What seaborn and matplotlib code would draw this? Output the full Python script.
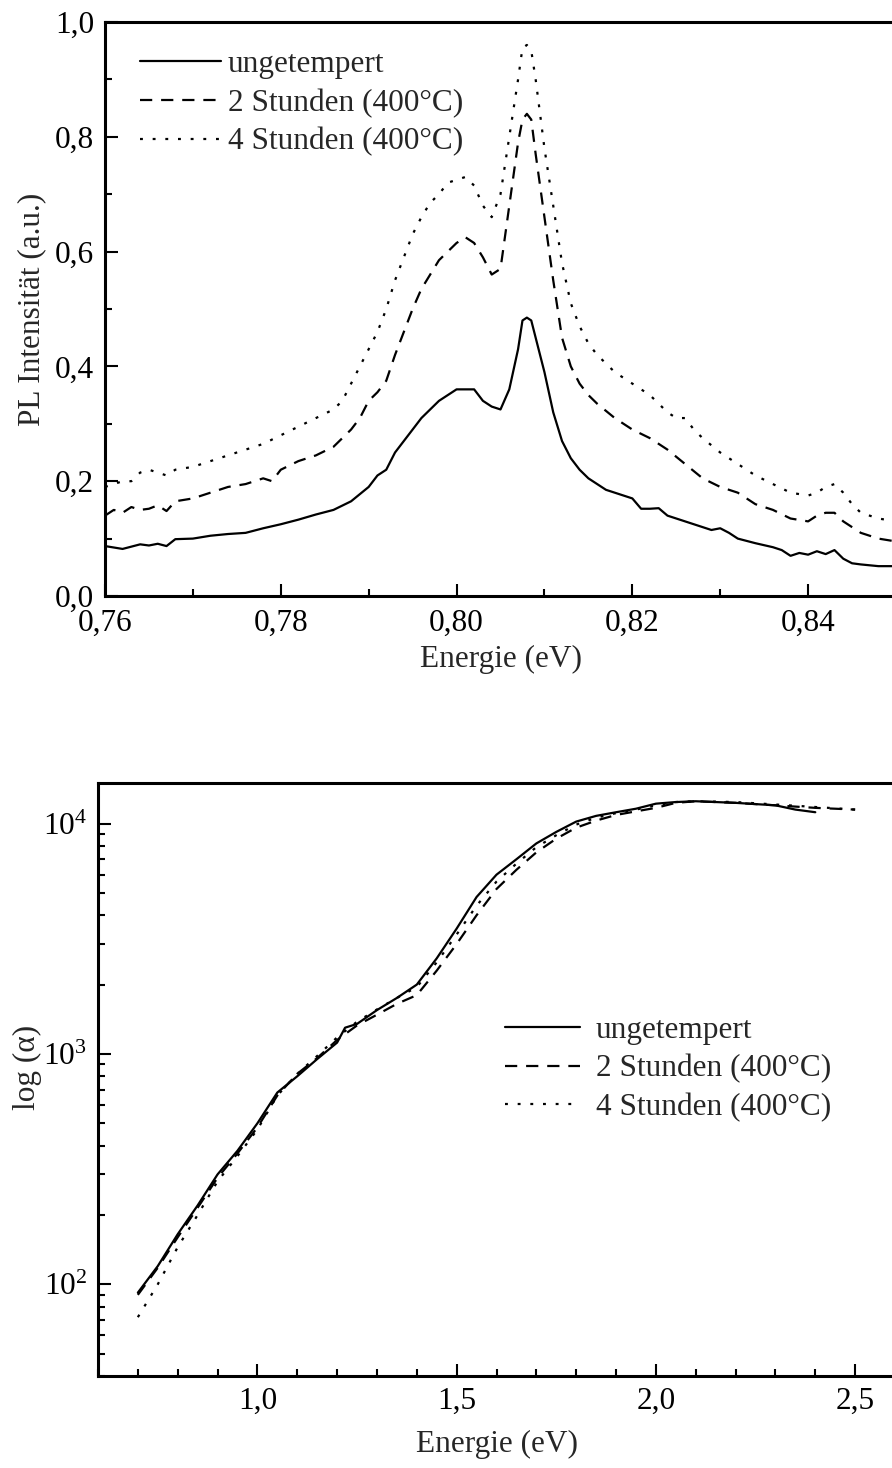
import numpy as np
import pandas as pd
import matplotlib
matplotlib.use("Agg")
import matplotlib.pyplot as plt
import seaborn as sns
from matplotlib.ticker import MultipleLocator, FuncFormatter, LogLocator, NullFormatter

# ---------------- data: PL spectra ----------------
pl_x_solid = [0.760, 0.762, 0.764, 0.765, 0.766, 0.767, 0.768, 0.770, 0.772, 0.774, 0.776, 0.778,
              0.780, 0.782, 0.784, 0.786, 0.788, 0.790, 0.791, 0.792, 0.793, 0.794, 0.795, 0.796,
              0.797, 0.798, 0.799, 0.800, 0.801, 0.802, 0.803, 0.804, 0.805, 0.806, 0.807, 0.8075,
              0.808, 0.8085, 0.809, 0.810, 0.811, 0.812, 0.813, 0.814, 0.815, 0.816, 0.817, 0.818,
              0.820, 0.821, 0.822, 0.823, 0.824, 0.826, 0.828, 0.829, 0.830, 0.831, 0.832, 0.834,
              0.836, 0.837, 0.838, 0.839, 0.840, 0.841, 0.842, 0.843, 0.844, 0.845, 0.846, 0.848, 0.850]
pl_y_solid = [0.087, 0.082, 0.090, 0.088, 0.091, 0.087, 0.099, 0.100, 0.105, 0.108, 0.110, 0.118,
              0.125, 0.133, 0.142, 0.150, 0.165, 0.190, 0.210, 0.220, 0.250, 0.270, 0.290, 0.310,
              0.325, 0.340, 0.350, 0.360, 0.360, 0.360, 0.340, 0.330, 0.325, 0.360, 0.430, 0.480,
              0.485, 0.480, 0.450, 0.390, 0.320, 0.270, 0.240, 0.220, 0.205, 0.195, 0.185, 0.180,
              0.170, 0.152, 0.152, 0.153, 0.140, 0.130, 0.120, 0.115, 0.118, 0.110, 0.100, 0.092,
              0.085, 0.080, 0.070, 0.075, 0.072, 0.078, 0.073, 0.080, 0.065, 0.057, 0.055, 0.052, 0.052]

pl_x_2h = [0.760, 0.761, 0.762, 0.763, 0.764, 0.765, 0.766, 0.767, 0.768, 0.770, 0.772, 0.774,
           0.776, 0.778, 0.779, 0.780, 0.782, 0.784, 0.786, 0.788, 0.789, 0.790, 0.791, 0.792,
           0.793, 0.794, 0.795, 0.796, 0.797, 0.798, 0.799, 0.800, 0.801, 0.802, 0.803, 0.804,
           0.805, 0.806, 0.807, 0.8075, 0.808, 0.8085, 0.809, 0.810, 0.811, 0.812, 0.813, 0.814,
           0.815, 0.816, 0.818, 0.820, 0.822, 0.824, 0.826, 0.828, 0.830, 0.832, 0.834, 0.836,
           0.838, 0.840, 0.841, 0.842, 0.843, 0.844, 0.846, 0.848, 0.850]
pl_y_2h = [0.140, 0.150, 0.145, 0.155, 0.150, 0.152, 0.158, 0.148, 0.165, 0.170, 0.180, 0.190,
           0.195, 0.205, 0.200, 0.220, 0.235, 0.245, 0.260, 0.290, 0.310, 0.340, 0.355, 0.375,
           0.420, 0.460, 0.500, 0.535, 0.560, 0.585, 0.600, 0.615, 0.625, 0.615, 0.590, 0.560,
           0.570, 0.680, 0.790, 0.830, 0.840, 0.830, 0.770, 0.660, 0.550, 0.450, 0.400, 0.370,
           0.350, 0.335, 0.310, 0.290, 0.275, 0.255, 0.230, 0.205, 0.190, 0.180, 0.160, 0.150,
           0.135, 0.130, 0.140, 0.145, 0.145, 0.130, 0.110, 0.100, 0.095]

pl_x_4h = [0.760, 0.762, 0.763, 0.764, 0.765, 0.766, 0.767, 0.768, 0.770, 0.772, 0.774, 0.776,
           0.778, 0.780, 0.782, 0.784, 0.786, 0.787, 0.788, 0.789, 0.790, 0.791, 0.792, 0.793,
           0.794, 0.795, 0.796, 0.797, 0.798, 0.799, 0.800, 0.801, 0.802, 0.803, 0.804, 0.805,
           0.806, 0.807, 0.8075, 0.808, 0.8085, 0.809, 0.810, 0.811, 0.812, 0.813, 0.814, 0.815,
           0.816, 0.818, 0.820, 0.822, 0.824, 0.825, 0.826, 0.827, 0.828, 0.830, 0.832, 0.834,
           0.836, 0.838, 0.840, 0.841, 0.842, 0.843, 0.844, 0.845, 0.846, 0.848, 0.850]
pl_y_4h = [0.190, 0.200, 0.200, 0.215, 0.220, 0.215, 0.210, 0.220, 0.225, 0.235, 0.245, 0.255,
           0.265, 0.280, 0.295, 0.310, 0.325, 0.340, 0.370, 0.400, 0.430, 0.460, 0.500, 0.550,
           0.590, 0.630, 0.660, 0.685, 0.700, 0.720, 0.725, 0.730, 0.715, 0.680, 0.660, 0.700,
           0.800, 0.900, 0.955, 0.960, 0.950, 0.900, 0.780, 0.680, 0.580, 0.510, 0.470, 0.440,
           0.420, 0.390, 0.370, 0.350, 0.320, 0.310, 0.310, 0.290, 0.275, 0.250, 0.230, 0.210,
           0.195, 0.180, 0.175, 0.180, 0.190, 0.195, 0.180, 0.160, 0.145, 0.135, 0.130]

# ---------------- data: absorption ----------------
ab_x_solid = [0.70, 0.75, 0.80, 0.85, 0.90, 0.95, 1.00, 1.05, 1.10, 1.15, 1.20, 1.22, 1.25, 1.30,
              1.35, 1.40, 1.45, 1.50, 1.55, 1.60, 1.65, 1.70, 1.75, 1.80, 1.85, 1.90, 1.95, 2.00,
              2.05, 2.10, 2.20, 2.30, 2.35, 2.40]
ab_y_solid = [92, 120, 165, 220, 300, 380, 500, 680, 800, 950, 1120, 1300, 1350, 1550,
              1750, 2000, 2600, 3500, 4800, 6000, 7000, 8200, 9200, 10200, 10800, 11200, 11600, 12200,
              12400, 12500, 12300, 12000, 11500, 11200]

ab_x_2h = [0.70, 0.75, 0.80, 0.85, 0.90, 0.95, 1.00, 1.05, 1.10, 1.15, 1.20, 1.25, 1.30, 1.35,
           1.40, 1.45, 1.50, 1.55, 1.60, 1.65, 1.70, 1.75, 1.80, 1.85, 1.90, 1.95, 2.00, 2.05,
           2.10, 2.20, 2.30, 2.40, 2.50]
ab_y_2h = [90, 118, 160, 215, 290, 370, 480, 660, 820, 960, 1150, 1330, 1480, 1650,
           1800, 2300, 3000, 4000, 5200, 6300, 7500, 8600, 9600, 10300, 10900, 11300, 11700, 12300,
           12500, 12300, 12000, 11700, 11500]

ab_x_4h = [0.70, 0.75, 0.80, 0.85, 0.90, 0.95, 1.00, 1.05, 1.10, 1.15, 1.20, 1.25, 1.30, 1.35,
           1.40, 1.45, 1.50, 1.55, 1.60, 1.65, 1.70, 1.75, 1.80, 1.85, 1.90, 1.95, 2.00, 2.05,
           2.10, 2.20, 2.30, 2.40, 2.50]
ab_y_4h = [72, 100, 145, 200, 280, 360, 470, 660, 820, 980, 1180, 1380, 1560, 1750,
           1950, 2500, 3300, 4400, 5600, 6700, 7900, 8900, 9900, 10600, 11100, 11500, 12000, 12400,
           12500, 12400, 12100, 11800, 11500]

labels = ["ungetempert", "2 Stunden (400°C)", "4 Stunden (400°C)"]

# ---------------- style ----------------
sns.set_theme(style="white")
plt.rcParams["font.family"] = ["Liberation Serif", "DejaVu Serif"]
plt.rcParams["mathtext.fontset"] = "custom"
plt.rcParams["mathtext.rm"] = "Liberation Serif"
plt.rcParams["mathtext.it"] = "Liberation Serif:italic"
plt.rcParams["axes.linewidth"] = 2.2
plt.rcParams["axes.edgecolor"] = "black"

FS = 22.5
LW = 1.6
dash_solid = None
dash_dashed = (5.5, 4.0)
dash_dotted = (1.3, 4.4)

fig = plt.figure(figsize=(8.92, 14.68), dpi=100)
ax1 = fig.add_axes([105 / 892, 1 - 596 / 1468, (896 - 105) / 892, (596 - 22) / 1468])
ax2 = fig.add_axes([98 / 892, 1 - 1376 / 1468, (895 - 98) / 892, (1376 - 783) / 1468])


def draw(ax, xs, ys):
    patterns = [dash_solid, dash_dashed, dash_dotted]
    for x, y, lab, pat in zip(xs, ys, labels, patterns):
        df = pd.DataFrame({"x": x, "y": y})
        sns.lineplot(data=df, x="x", y="y", ax=ax, color="black", linewidth=LW,
                     label=lab, sort=False, estimator=None)
        line = ax.lines[-1]
        if pat is not None:
            line.set_dashes(pat)
        line.set_dash_capstyle("butt")


draw(ax1, [pl_x_solid, pl_x_2h, pl_x_4h], [pl_y_solid, pl_y_2h, pl_y_4h])
draw(ax2, [ab_x_solid, ab_x_2h, ab_x_4h], [ab_y_solid, ab_y_2h, ab_y_4h])

comma1 = FuncFormatter(lambda v, p: f"{v:.1f}".replace(".", ","))
comma2 = FuncFormatter(lambda v, p: f"{v:.2f}".replace(".", ","))

# top axes
ax1.set_xlim(0.76, 0.85)
ax1.set_ylim(0.0, 1.0)
ax1.xaxis.set_major_locator(MultipleLocator(0.02))
ax1.xaxis.set_minor_locator(MultipleLocator(0.01))
ax1.yaxis.set_major_locator(MultipleLocator(0.2))
ax1.yaxis.set_minor_locator(MultipleLocator(0.1))
ax1.xaxis.set_major_formatter(comma2)
ax1.yaxis.set_major_formatter(comma1)
ax1.set_xlabel("Energie (eV)", fontsize=FS, labelpad=5)
ax1.set_ylabel("PL Intensität (a.u.)", fontsize=FS, labelpad=6)

# bottom axes
ax2.set_yscale("log")
ax2.set_xlim(0.6, 2.6)
ax2.set_ylim(40, 15000)
ax2.xaxis.set_major_locator(MultipleLocator(0.5))
ax2.xaxis.set_minor_locator(MultipleLocator(0.1))
ax2.xaxis.set_major_formatter(comma1)
ax2.yaxis.set_major_locator(LogLocator(base=10, numticks=10))
ax2.yaxis.set_minor_locator(LogLocator(base=10, subs=np.arange(2, 10), numticks=20))
ax2.yaxis.set_minor_formatter(NullFormatter())
ax2.set_xlabel("Energie (eV)", fontsize=FS, labelpad=10)
ax2.set_ylabel("log (α)", fontsize=FS, labelpad=8)
ax2.yaxis.set_label_coords(-0.07, 0.52)

for ax in (ax1, ax2):
    ax.tick_params(which="both", direction="in", width=1.5, colors="black",
                   labelsize=FS, bottom=True, left=True, top=False, right=False)
    ax.tick_params(which="major", length=9)
    ax.tick_params(which="minor", length=5)
    ax.tick_params(axis="y", which="both", pad=8)
    for s in ax.spines.values():
        s.set_color("black")
        s.set_linewidth(2.2)
ax1.tick_params(axis="x", which="both", pad=9.5)
ax2.tick_params(axis="x", which="both", pad=8)

leg_top = dict(frameon=False, fontsize=FS, handlelength=2.6, handletextpad=0.22,
               labelspacing=0.3, borderpad=0, borderaxespad=0, loc="upper left")
leg_bot = dict(frameon=False, fontsize=FS, handlelength=2.4, handletextpad=0.5,
               labelspacing=0.3, borderpad=0, borderaxespad=0, loc="upper left")
ax1.legend(bbox_to_anchor=(0.044, 0.951), **leg_top)
ax2.legend(bbox_to_anchor=(0.511, 0.607), **leg_bot)

fig.savefig("out.png", dpi=100)
